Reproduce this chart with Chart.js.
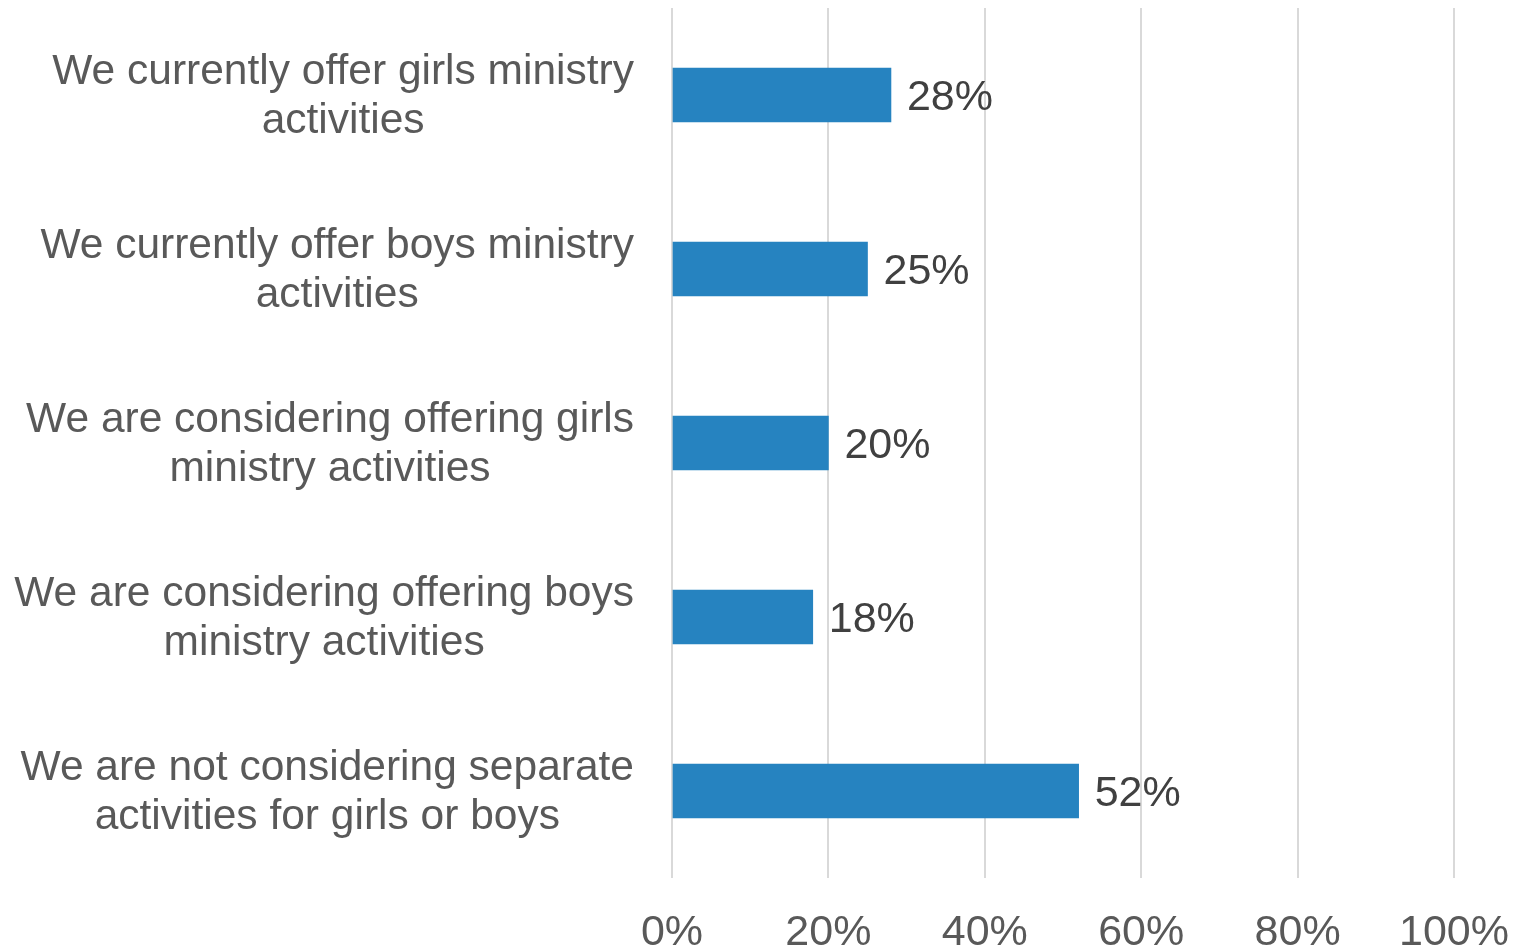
<!DOCTYPE html>
<html>
<head>
<meta charset="utf-8">
<script src="https://cdn.jsdelivr.net/npm/chart.js@4/dist/chart.umd.min.js"></script>
<style>
  html, body { margin: 0; padding: 0; background: #fff; }
  #wrap { width: 1520px; height: 949px; }
</style>
</head>
<body>
<div id="wrap"><canvas id="chart"></canvas></div>
<script>
const categories = [
    ['We currently offer girls ministry', 'activities'],
    ['We currently offer boys ministry', 'activities'],
    ['We are considering offering girls', 'ministry activities'],
    ['We are considering offering boys', 'ministry activities'],
    ['We are not considering separate', 'activities for girls or boys']
];
const values = [28, 25, 20, 18, 52];
const xTicks = [0, 20, 40, 60, 80, 100];

const FONT = '"Liberation Sans", Arial, sans-serif';

// category labels: block right-aligned, lines centered inside the block
const yLabelPlugin = {
    id: 'yLabels',
    afterDraw(chart) {
        const c = chart.ctx;
        const y = chart.scales.y;
        c.save();
        c.font = '42.5px ' + FONT;
        c.fillStyle = '#595959';
        c.textAlign = 'center';
        c.textBaseline = 'middle';
        categories.forEach(function (lines, i) {
            const cy = y.getPixelForTick(i) + 2;
            const w = Math.max.apply(null, lines.map(l => c.measureText(l).width));
            const cx = 634 - w / 2;
            const lh = 49;
            lines.forEach(function (l, k) {
                c.fillText(l, cx, cy + (k - (lines.length - 1) / 2) * lh);
            });
        });
        c.restore();
    }
};

// value labels at bar ends
const valueLabelPlugin = {
    id: 'valueLabels',
    afterDatasetsDraw(chart) {
        const c = chart.ctx;
        const meta = chart.getDatasetMeta(0);
        c.save();
        c.font = '43px ' + FONT;
        c.fillStyle = '#404040';
        c.textAlign = 'left';
        c.textBaseline = 'middle';
        meta.data.forEach(function (bar, i) {
            c.fillText(values[i] + '%', bar.x + 16, bar.y + 3);
        });
        c.restore();
    }
};

new Chart(document.getElementById('chart'), {
    type: 'bar',
    data: {
        labels: categories,
        datasets: [{
            data: values,
            backgroundColor: '#2683c0',
            barThickness: 54
        }]
    },
    options: {
        indexAxis: 'y',
        responsive: true,
        maintainAspectRatio: false,
        animation: false,
        layout: { padding: { top: 8, right: 0, left: 0, bottom: 0 } },
        plugins: {
            legend: { display: false },
            tooltip: { enabled: false }
        },
        scales: {
            x: {
                min: 0,
                max: 100,
                afterBuildTicks(scale) {
                    scale.ticks = xTicks.map(v => ({ value: v }));
                },
                afterFit(scale) {
                    scale.height = 71;
                    scale.paddingRight = 66;
                    scale.paddingLeft = 0;
                },
                ticks: {
                    callback: v => v + '%',
                    color: '#595959',
                    font: { family: FONT, size: 43, lineHeight: 1.2 },
                    padding: 29,
                    maxRotation: 0
                },
                grid: { color: '#d9d9d9', lineWidth: 2, drawTicks: false },
                border: { display: false }
            },
            y: {
                afterFit(scale) { scale.width = 672; },
                ticks: { display: false },
                grid: { display: false },
                border: { display: false }
            }
        }
    },
    plugins: [yLabelPlugin, valueLabelPlugin]
});
</script>
</body>
</html>
